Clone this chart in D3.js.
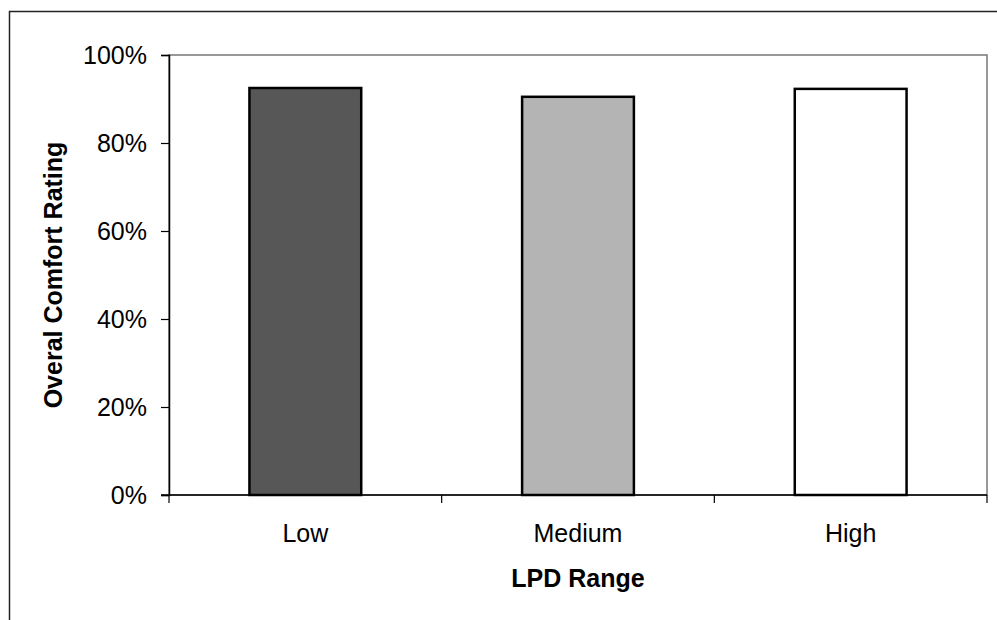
<!DOCTYPE html>
<html lang="en">
<head>
  <meta charset="UTF-8">
  <title>LPD Range comfort</title>
  <script src="https://cdn.jsdelivr.net/npm/d3@7"></script>
  <style>
    body { margin: 0; background: #fff; }
    text { font-family: "Liberation Sans", Arial, sans-serif; }
  </style>
</head>
<body>
  <div id="chart"></div>

  <script>
    const categories = ["Low", "Medium", "High"];
    const values = [0.925, 0.905, 0.923];
    const fills = ["#575757", "#b4b4b4", "#ffffff"];
    const yTicks = [0, 0.2, 0.4, 0.6, 0.8, 1.0];

    const width = 997,
      height = 620;
    const plot = {left: 169, top: 55, right: 987, bottom: 495};

    const svg = d3.select('#chart')
      .append('svg')
        .attr('width', width)
        .attr('height', height);

    // outer frame (right and bottom edges run off the picture)
    svg.append('rect')
      .attr('x', 9.5).attr('y', 11.5)
      .attr('width', 1000).attr('height', 700)
      .attr('fill', 'none')
      .attr('stroke', '#222')
      .attr('stroke-width', 1.5);

    const x = d3.scaleBand()
      .domain(categories)
      .range([plot.left, plot.right])
      .paddingInner(0.59)
      .paddingOuter(0.295);

    const y = d3.scaleLinear()
      .domain([0, 1])
      .range([plot.bottom, plot.top]);

    // plot area box
    svg.append('rect')
      .attr('x', plot.left).attr('y', plot.top)
      .attr('width', plot.right - plot.left)
      .attr('height', plot.bottom - plot.top)
      .attr('fill', 'none')
      .attr('stroke', '#777')
      .attr('stroke-width', 1.5);

    svg.selectAll('rect.bar')
      .data(values)
      .join('rect')
        .attr('class', 'bar')
        .attr('x', (d, i) => x(categories[i]))
        .attr('y', d => y(d))
        .attr('width', x.bandwidth())
        .attr('height', d => y(0) - y(d))
        .attr('fill', (d, i) => fills[i])
        .attr('stroke', '#000')
        .attr('stroke-width', 2.5);

    // y axis
    const yAxis = svg.append('g')
      .attr('transform', `translate(${plot.left},0)`)
      .call(d3.axisLeft(y).tickValues(yTicks).tickFormat(d3.format('.0%')).tickSize(8).tickPadding(14));
    yAxis.select('.domain').attr('stroke', '#000').attr('stroke-width', 1.5);
    yAxis.selectAll('.tick line').attr('stroke', '#000').attr('stroke-width', 1.2);
    yAxis.selectAll('text').attr('font-size', 25).attr('fill', '#000')
      .style('font-family', '"Liberation Sans", Arial, sans-serif');

    // x axis: ticks at category boundaries
    const bounds = d3.range(categories.length + 1).map(i => plot.left + i * (plot.right - plot.left) / categories.length);
    svg.append('line')
      .attr('x1', plot.left - 8).attr('x2', plot.right)
      .attr('y1', plot.bottom).attr('y2', plot.bottom)
      .attr('stroke', '#000').attr('stroke-width', 1.5);
    svg.selectAll('line.xtick')
      .data(bounds)
      .join('line')
        .attr('class', 'xtick')
        .attr('x1', d => d).attr('x2', d => d)
        .attr('y1', plot.bottom).attr('y2', plot.bottom + 8)
        .attr('stroke', '#000').attr('stroke-width', 1.2);

    svg.selectAll('text.xlab')
      .data(categories)
      .join('text')
        .attr('class', 'xlab')
        .attr('x', d => x(d) + x.bandwidth() / 2)
        .attr('y', 542)
        .attr('text-anchor', 'middle')
        .attr('font-size', 25)
        .text(d => d);

    svg.append('text')
      .attr('x', (plot.left + plot.right) / 2)
      .attr('y', 587)
      .attr('text-anchor', 'middle')
      .attr('font-size', 25)
      .attr('font-weight', 'bold')
      .text('LPD Range');

    svg.append('text')
      .attr('transform', `translate(62,${(plot.top + plot.bottom) / 2}) rotate(-90)`)
      .attr('text-anchor', 'middle')
      .attr('font-size', 25)
      .attr('font-weight', 'bold')
      .text('Overal Comfort Rating');
  </script>
</body>
</html>
